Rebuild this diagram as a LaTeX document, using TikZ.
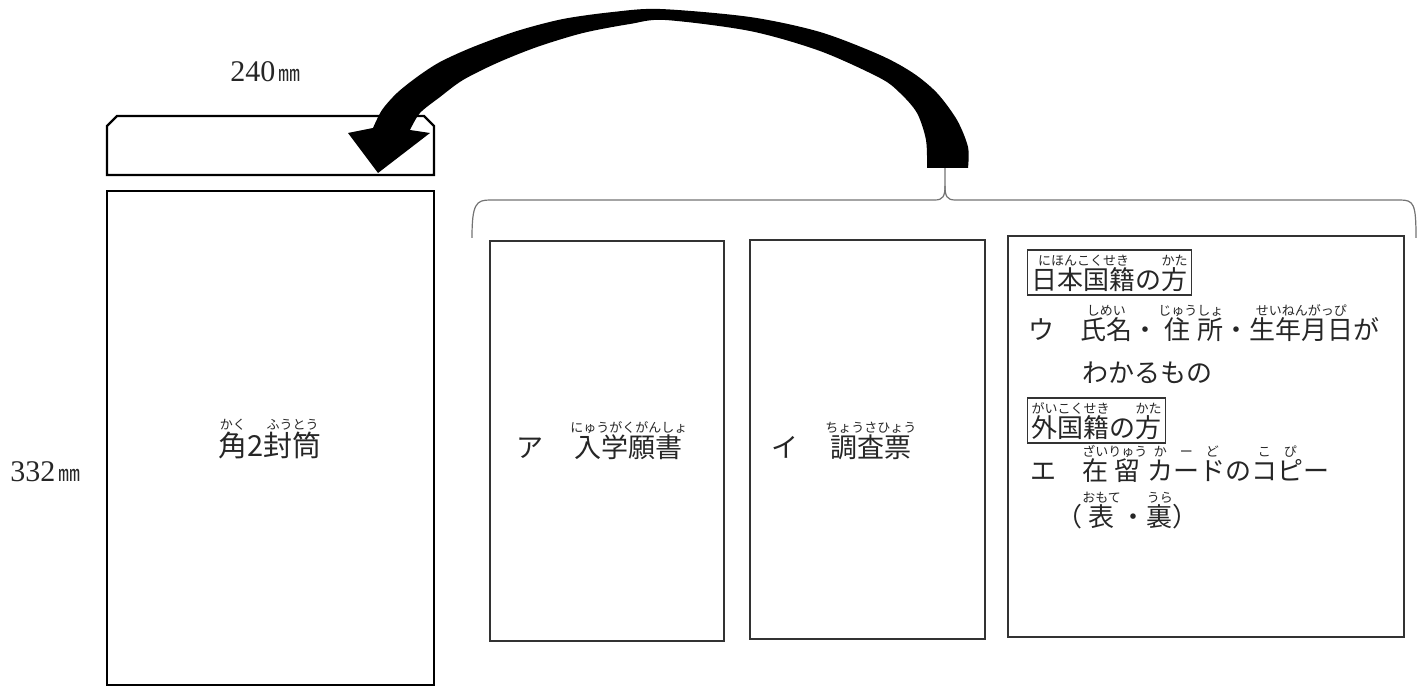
\documentclass[tikz,border=0pt]{standalone}
\usepackage{fontspec}
\setmainfont{Noto Sans CJK JP}
\newfontfamily\numfont{Liberation Serif}
\usepackage{tikz}

\newcommand{\rubyfnt}{\fontsize{6.5}{7}\selectfont}
\newsavebox\furibase
\newsavebox\furitop
\newlength\furiwd
\newcommand{\furi}[2]{%
  \sbox\furibase{#1}\sbox\furitop{\rubyfnt #2}%
  \setlength\furiwd{\wd\furibase}%
  \ifdim\wd\furitop>\furiwd \setlength\furiwd{\wd\furitop}\fi
  \makebox[\furiwd]{\usebox\furibase}%
  \llap{\makebox[\furiwd]{\raisebox{0.95em}{\usebox\furitop}}}}

\begin{document}
\begin{tikzpicture}[x=0.5pt,y=-0.5pt,
    env/.style={draw=black,line width=1.2pt},
    card/.style={draw=black!80,line width=0.8pt},
    brace/.style={draw=black!55,line width=0.6pt},
    txt/.style={anchor=base west,inner sep=0pt,text=black!85,font=\fontsize{13}{15}\selectfont},
    bigtxt/.style={txt,font=\fontsize{13.5}{15}\selectfont},
    tag/.style={txt,draw=black!80,line width=0.7pt,inner xsep=2pt,inner ysep=0pt,
      text height=20pt,text depth=2.5pt},
    dim/.style={anchor=base west,inner sep=0pt,text=black!85}]
  \useasboundingbox (0,0) rectangle (1419,688);

  \draw[env] (107,175) -- (107,126) -- (117,116) -- (424,116) -- (434,126) -- (434,175) -- cycle;
  \draw[env] (107,191) rectangle (434,685);
  \draw[card] (490,241) rectangle (724,641);
  \draw[card] (750,240) rectangle (985,639);
  \draw[card] (1008,236) rectangle (1404,637);

  \coordinate (tip) at (945,168);
  \draw[brace] (472,238) .. controls (472,204) and (476,200) .. (490,200) -- (935,200)
     .. controls (943,200) and (945,196) .. (945,186) -- (tip);
  \draw[brace] (945,186) .. controls (945,196) and (947,200) .. (955,200) -- (1400,200)
     .. controls (1414,200) and (1416,204) .. (1416,238);

  \fill[black] (927,168) -- (968,168) -- plot[smooth] coordinates {(968,168) (968,147)
     (957,120) (937,93) (913,73) (880,55) (820,32) (750,17) (660,9) (613,12) (563,19)
     (517,31) (473,47) (440,62) (417,77) (397,93) (382,110) (373,128)}
     -- (348,133) -- (378,173) -- (430,133) -- (410,130)
     -- plot[smooth] coordinates {(410,130) (420,113) (440,97) (463,80) (497,63) (537,47)
     (583,33) (630,24) (665,20) (750,31) (820,51) (880,78) (900,93) (917,113)
     (926,140) (927,168)} -- cycle;

  \node[dim] (width) at (230,82) {{\numfont\fontsize{15}{15}\selectfont 240}\,{\fontsize{11}{11}\selectfont ㎜}};
  \node[dim] (height) at (10,482) {{\numfont\fontsize{15}{15}\selectfont 332}\,{\fontsize{11}{11}\selectfont ㎜}};

  \node[bigtxt,anchor=base,font=\fontsize{14.5}{16}\selectfont] (envname) at (270,457)
     {\furi{角}{かく}2\furi{封筒}{ふうとう}};
  \node[bigtxt] (formA) at (516,458) {ア　\furi{入学願書}{にゅうがくがんしょ}};
  \node[bigtxt] (formB) at (771,458) {イ　\furi{調査票}{ちょうさひょう}};

  \node[tag] (jpHead) at (1027,290) {\furi{日本国籍}{にほんこくせき}の\furi{方}{かた}};
  \node[txt] (jpItem) at (1028,340) {ウ　\furi{氏名}{しめい}・\furi{住}{じゅう}\furi{所}{しょ}・\furi{生年月日}{せいねんがっぴ}が};
  \node[txt] (jpItemB) at (1082,383) {わかるもの};
  \node[tag] (fgHead) at (1027,438) {\furi{外国籍}{がいこくせき}の\furi{方}{かた}};
  \node[txt] (fgItem) at (1030,481) {エ　\furi{在}{ざい}\furi{留}{りゅう}\furi{カ}{か}\furi{ー}{ー}\furi{ド}{ど}の\furi{コ}{こ}\furi{ピ}{ぴ}ー};
  \node[txt] (fgItemB) at (1056,527) {（\furi{表}{おもて}・\furi{裏}{うら}）};
\end{tikzpicture}
\end{document}
